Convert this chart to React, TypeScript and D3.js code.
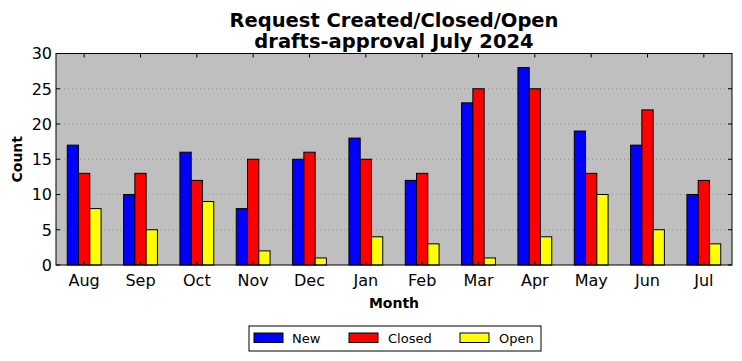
import React from "react";
import * as d3 from "d3";

const months = ["Aug", "Sep", "Oct", "Nov", "Dec", "Jan", "Feb", "Mar", "Apr", "May", "Jun", "Jul"];
const newVals = [17, 10, 16, 8, 15, 18, 12, 23, 28, 19, 17, 10];
const closedVals = [13, 13, 12, 15, 16, 15, 13, 25, 25, 13, 22, 12];
const openVals = [8, 5, 9, 2, 1, 4, 3, 1, 4, 10, 5, 3];
const yTicks = [0, 5, 10, 15, 20, 25, 30];
const seriesNames = ["New", "Closed", "Open"];
const seriesColors = ["#0000ff", "#ff0000", "#ffff00"];

export default function App() {
  const W = 742, H = 361;
  const L = 56, R = 732, T = 53.5, B = 265;
  const x = d3.scaleLinear().domain([-0.5, 11.5]).range([L, R]);
  const y = d3.scaleLinear().domain([0, 30]).range([B, T]);
  const series = [newVals, closedVals, openVals];
  const offsets = [-0.2, 0, 0.2];
  const bw = 0.2;
  const font = "DejaVu Sans, sans-serif";
  const legendItems = [
    { px: 254, tx: 292 },
    { px: 349, tx: 388 },
    { px: 460, tx: 499 },
  ];
  return (
    <svg width={W} height={H} style={{ position: "absolute", left: 0, top: 0 }} fontFamily={font}>
      <rect x={0} y={0} width={W} height={H} fill="#fff" />
      <rect x={L} y={T} width={R - L} height={B - T} fill="#bfbfbf" />
      {yTicks.filter((t) => t > 0 && t < 30).map((t) => (
        <line key={"g" + t} x1={L} x2={R} y1={y(t)} y2={y(t)} stroke="#8a8a8a" strokeWidth={0.8} strokeDasharray="1,3" />
      ))}
      {series.map((vals, si) =>
        vals.map((v, i) => {
          const x0 = x(i + offsets[si] - bw / 2);
          const x1 = x(i + offsets[si] + bw / 2);
          return (
            <rect key={si + "-" + i} x={x0} y={y(v)} width={x1 - x0} height={y(0) - y(v)} fill={seriesColors[si]} stroke="#000" strokeWidth={1} />
          );
        })
      )}
      <rect x={L} y={T} width={R - L} height={B - T} fill="none" stroke="#000" strokeWidth={1} />
      {yTicks.map((t) => (
        <g key={"yt" + t}>
          <line x1={L} x2={L + 4} y1={y(t)} y2={y(t)} stroke="#000" />
          <line x1={R} x2={R - 4} y1={y(t)} y2={y(t)} stroke="#000" />
          <text x={L - 4} y={y(t)} dy="0.36em" textAnchor="end" fontSize={16}>{t}</text>
        </g>
      ))}
      {months.map((m, i) => (
        <g key={"xt" + m}>
          <line x1={x(i)} x2={x(i)} y1={T} y2={T + 4} stroke="#000" />
          <line x1={x(i)} x2={x(i)} y1={B} y2={B - 4} stroke="#000" />
          <text x={x(i)} y={B + 20.5} textAnchor="middle" fontSize={16}>{m}</text>
        </g>
      ))}
      <text x={(L + R) / 2} y={26.5} textAnchor="middle" fontSize={19.5} fontWeight="bold">Request Created/Closed/Open</text>
      <text x={(L + R) / 2} y={47.5} textAnchor="middle" fontSize={19.5} fontWeight="bold">drafts-approval July 2024</text>
      <text x={(L + R) / 2} y={308} textAnchor="middle" fontSize={14} fontWeight="bold">Month</text>
      <text transform={`translate(21.5,${(T + B) / 2}) rotate(-90)`} textAnchor="middle" fontSize={14} fontWeight="bold">Count</text>
      <rect x={249} y={326} width={292} height={25} fill="#fff" stroke="#000" strokeWidth={1} />
      {seriesNames.map((n, i) => (
        <g key={n}>
          <rect x={legendItems[i].px} y={333} width={29} height={9.5} fill={seriesColors[i]} stroke="#000" strokeWidth={1} />
          <text x={legendItems[i].tx} y={338} dy="0.36em" fontSize={13}>{n}</text>
        </g>
      ))}
    </svg>
  );
}
